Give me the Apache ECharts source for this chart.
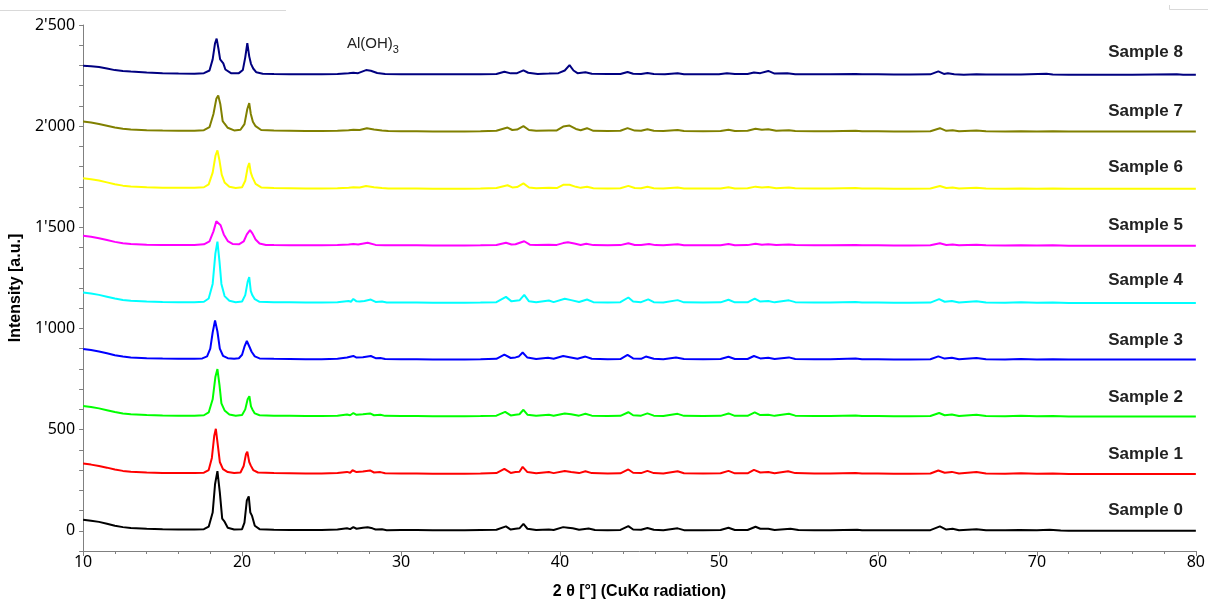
<!DOCTYPE html>
<html>
<head>
<meta charset="utf-8">
<script src="https://cdn.jsdelivr.net/npm/echarts@6/dist/echarts.min.js"></script>
<style>
html,body{margin:0;padding:0;background:#fff;}
#chart{width:1208px;height:605px;}
</style>
</head>
<body>
<div id="chart"></div>
<script>
// ---- Data (2θ [°], intensity as plotted incl. vertical stacking) ----
const sampleNames = ['Sample 0','Sample 1','Sample 2','Sample 3','Sample 4','Sample 5','Sample 6','Sample 7','Sample 8'];
const sampleColors = ['#000000','#ff0000','#00ff00','#0000ff','#00ffff','#ff00ff','#ffff00','#808000','#000080'];
const labelLevels = [101, 377, 662, 942, 1237, 1512, 1797, 2072, 2367];
const yTickLabels = ["0","500","1'000","1'500","2'000","2'500"];

const sample0 = [[10,55],[10.5,50],[11,44],[11.5,35],[12,25],[12.5,18],[13,14],[14,10],[15,7],[16,6],[17,6],[17.6,8],[17.9,20],[18.15,90],[18.3,230],[18.45,295],[18.6,190],[18.75,60],[18.9,45],[19.1,15],[19.5,6],[20.0,8],[20.15,40],[20.3,150],[20.42,170],[20.52,90],[20.62,75],[20.8,25],[21.1,8],[22,5],[23,4],[24,4],[25,4],[26,6],[26.6,12],[26.8,8],[27.0,18],[27.2,10],[27.6,15],[27.9,17],[28.2,12],[28.4,6],[28.8,7],[29.1,3],[30,4],[31,4],[32,3],[33,3],[34,3],[35,4],[36,5],[36.6,22],[36.9,6],[37.2,10],[37.45,12],[37.7,34],[37.95,10],[38.5,4],[39.3,6],[39.6,4],[40.2,18],[40.5,15],[40.8,12],[41.2,5],[41.8,11],[42.2,4],[43,3],[43.8,4],[44.3,23],[44.6,6],[45.1,5],[45.5,14],[45.9,5],[46.5,3],[47.4,12],[47.8,3],[49,3],[50.1,4],[50.6,15],[51,4],[51.8,4],[52.3,20],[52.6,10],[53.1,10],[53.5,4],[54.5,10],[55,4],[56,3],[57,3],[58.7,5],[59,2],[60,2],[61,2],[62,2],[63.3,3],[63.9,22],[64.3,6],[64.7,10],[65.1,3],[66.2,8],[66.8,3],[68,2],[68.9,4],[70,2],[70.8,5],[71.5,1],[72,0],[74,0],[76,0],[78,0],[80,0]];

const sample1 = [[10,332],[10.5,327],[11,320],[11.5,312],[12,303],[12.5,296],[13,292],[14,288],[15,286],[16,285],[17,285],[17.6,287],[17.9,300],[18.1,360],[18.25,470],[18.35,504],[18.48,420],[18.6,340],[18.8,305],[19.1,290],[19.5,285],[19.9,288],[20.1,320],[20.25,380],[20.33,391],[20.45,340],[20.55,322],[20.7,300],[21,288],[22,285],[23,284],[24,283],[25,283],[26,285],[26.6,291],[26.8,287],[26.95,299],[27.2,290],[27.6,293],[28.05,298],[28.3,288],[28.7,290],[29,284],[30,283],[31,283],[32,282],[33,282],[34,282],[35,283],[36,285],[36.5,306],[36.9,286],[37.2,290],[37.45,292],[37.65,316],[37.95,290],[38.5,284],[39.3,290],[39.6,285],[40.3,295],[40.7,290],[41.2,285],[41.6,294],[42,285],[43,283],[43.8,284],[44.3,303],[44.6,287],[45.1,285],[45.5,296],[45.9,285],[46.5,283],[47.4,294],[47.8,284],[49,283],[50.1,284],[50.6,296],[51,284],[51.8,284],[52.2,301],[52.6,288],[53.1,290],[53.5,284],[54.35,294],[54.8,285],[56,283],[57,283],[58.6,286],[59,283],[60,283],[61,282],[62,282],[63.3,283],[63.8,298],[64.2,287],[64.65,291],[65.1,283],[66.2,291],[66.8,283],[68,282],[69,284],[70,282],[71,283],[72,281],[74,281],[76,281],[78,281],[80,281]];

const sample2 = [[10,617],[10.5,612],[11,605],[11.5,596],[12,587],[12.5,580],[13,576],[14,572],[15,570],[16,569],[17,569],[17.6,571],[17.9,585],[18.15,650],[18.32,760],[18.45,799],[18.58,720],[18.7,630],[18.9,595],[19.2,575],[19.6,569],[20,572],[20.2,600],[20.35,650],[20.46,665],[20.56,615],[20.65,600],[20.8,580],[21.1,571],[22,569],[23,568],[24,567],[25,567],[26,569],[26.6,575],[26.8,571],[27.0,582],[27.2,573],[27.6,576],[28.05,580],[28.3,571],[28.7,573],[29,568],[30,567],[31,567],[32,566],[33,566],[34,566],[35,567],[36,569],[36.55,588],[36.9,570],[37.2,574],[37.45,576],[37.7,598],[37.95,574],[38.5,568],[39.3,573],[39.6,569],[40.3,580],[40.7,576],[41.2,569],[41.6,578],[42,569],[43,567],[43.8,568],[44.3,586],[44.6,571],[45.1,569],[45.5,580],[45.9,569],[46.5,567],[47.4,578],[47.8,568],[49,567],[50.1,568],[50.6,580],[51,568],[51.8,568],[52.25,585],[52.6,572],[53.1,574],[53.5,568],[54.4,578],[54.8,569],[56,567],[57,567],[58.6,570],[59,567],[60,567],[61,566],[62,566],[63.3,567],[63.85,582],[64.2,571],[64.65,575],[65.1,567],[66.2,574],[66.8,567],[68,566],[69,568],[70,566],[71,567],[72,565],[74,565],[76,565],[78,565],[80,565]];

const sample3 = [[10,898],[10.5,893],[11,886],[11.5,877],[12,868],[12.5,861],[13,857],[14,853],[15,851],[16,850],[17,850],[17.5,852],[17.8,862],[18.0,900],[18.15,980],[18.3,1040],[18.45,985],[18.6,900],[18.8,865],[19.1,853],[19.5,850],[19.8,853],[20.0,870],[20.15,910],[20.3,938],[20.45,912],[20.6,885],[20.8,862],[21.1,852],[22,850],[23,849],[24,848],[25,848],[26,850],[26.6,856],[27.0,864],[27.2,856],[27.6,858],[28.1,864],[28.4,853],[28.7,854],[29,849],[30,848],[31,848],[32,847],[33,847],[34,847],[35,848],[36,850],[36.5,871],[36.9,854],[37.2,857],[37.4,861],[37.65,881],[37.95,856],[38.5,849],[39.25,855],[39.6,850],[40.2,864],[40.6,858],[41.1,850],[41.6,861],[42,850],[43,848],[43.8,849],[44.25,869],[44.6,852],[45.1,850],[45.4,861],[45.9,850],[46.5,848],[47.3,856],[47.8,849],[49,848],[50.1,849],[50.6,860],[51,849],[51.8,849],[52.2,864],[52.6,852],[53.1,855],[53.5,849],[54.4,857],[54.8,849],[56,848],[57,848],[58.6,851],[59,848],[60,848],[61,847],[62,847],[63.3,848],[63.8,862],[64.2,851],[64.65,855],[65.1,848],[66.2,854],[66.8,848],[68,847],[69,849],[70,847],[71,848],[72,846],[74,846],[76,846],[78,846],[80,846]];

const sample4 = [[10,1178],[10.5,1173],[11,1166],[11.5,1157],[12,1148],[12.5,1141],[13,1137],[14,1133],[15,1131],[16,1130],[17,1130],[17.6,1132],[17.9,1148],[18.15,1220],[18.32,1370],[18.45,1429],[18.58,1330],[18.7,1220],[18.9,1160],[19.2,1137],[19.6,1130],[20,1133],[20.2,1165],[20.35,1230],[20.45,1254],[20.55,1185],[20.65,1164],[20.8,1145],[21.1,1132],[22,1130],[23,1129],[24,1128],[25,1128],[26,1130],[26.7,1136],[26.85,1132],[27.0,1146],[27.2,1134],[27.4,1133],[27.7,1136],[28.1,1143],[28.4,1131],[28.8,1133],[29.1,1128],[30,1128],[31,1128],[32,1127],[33,1127],[34,1127],[35,1128],[36,1130],[36.6,1156],[36.95,1134],[37.2,1137],[37.45,1139],[37.75,1166],[38.05,1134],[38.5,1129],[39.3,1138],[39.6,1130],[40.3,1147],[40.7,1140],[41.2,1131],[41.7,1143],[42.1,1130],[43,1128],[43.8,1130],[44.3,1153],[44.6,1133],[45.1,1130],[45.55,1144],[45.9,1130],[46.5,1128],[47.4,1140],[47.8,1129],[49,1128],[50.1,1129],[50.6,1142],[51,1129],[51.8,1129],[52.25,1148],[52.6,1133],[53.1,1136],[53.5,1129],[54.4,1139],[54.8,1130],[56,1128],[57,1128],[58.6,1131],[59,1128],[60,1128],[61,1127],[62,1127],[63.3,1128],[63.85,1145],[64.2,1132],[64.65,1136],[65.1,1128],[66.2,1135],[66.8,1128],[68,1127],[69,1129],[70,1127],[71,1128],[72,1126],[74,1126],[76,1126],[78,1126],[80,1126]];

const sample5 = [[10,1458],[10.5,1453],[11,1446],[11.5,1437],[12,1428],[12.5,1421],[13,1417],[14,1414],[15,1413],[16,1412],[17,1413],[17.6,1416],[17.95,1430],[18.2,1480],[18.38,1530],[18.5,1539],[18.65,1510],[18.85,1465],[19.1,1432],[19.4,1418],[19.8,1416],[20.1,1430],[20.3,1465],[20.5,1486],[20.65,1470],[20.85,1440],[21.1,1420],[21.5,1413],[22,1412],[23,1411],[24,1411],[25,1411],[26,1412],[26.7,1415],[27.0,1417],[27.3,1415],[27.9,1424],[28.4,1413],[29,1411],[30,1411],[31,1411],[32,1410],[33,1410],[34,1410],[35,1411],[36,1413],[36.6,1424],[36.95,1415],[37.2,1416],[37.75,1431],[38.1,1414],[38.5,1412],[39.3,1414],[39.8,1413],[40.2,1422],[40.5,1426],[40.9,1420],[41.3,1413],[41.65,1419],[42.1,1412],[43,1411],[43.8,1412],[44.3,1421],[44.7,1413],[45.1,1412],[45.6,1418],[46,1412],[46.5,1411],[47.4,1416],[47.8,1411],[49,1411],[50.1,1411],[50.6,1417],[51,1411],[51.8,1412],[52.3,1419],[52.7,1414],[53.1,1416],[53.6,1412],[54.4,1415],[54.8,1412],[56,1411],[57,1411],[58.6,1413],[59,1411],[60,1411],[61,1410],[62,1410],[63.3,1411],[63.9,1421],[64.3,1413],[64.7,1415],[65.1,1411],[66.2,1414],[66.8,1411],[68,1410],[69,1411],[70,1410],[71,1411],[72,1409],[74,1409],[76,1409],[78,1409],[80,1409]];

const sample6 = [[10,1743],[10.5,1738],[11,1731],[11.5,1722],[12,1713],[12.5,1706],[13,1702],[14,1698],[15,1696],[16,1695],[17,1695],[17.6,1698],[17.9,1712],[18.15,1770],[18.33,1855],[18.45,1880],[18.58,1830],[18.72,1760],[18.9,1722],[19.2,1700],[19.6,1694],[20,1698],[20.2,1730],[20.35,1795],[20.45,1818],[20.55,1770],[20.65,1748],[20.85,1715],[21.2,1697],[22,1694],[23,1693],[24,1692],[25,1692],[26,1693],[26.7,1696],[27.0,1698],[27.4,1697],[27.8,1704],[28.3,1698],[28.8,1694],[29.2,1692],[30,1692],[31,1692],[32,1691],[33,1691],[34,1691],[35,1692],[36,1694],[36.7,1708],[37.0,1697],[37.3,1699],[37.7,1717],[38.05,1697],[38.5,1693],[39.3,1695],[39.8,1694],[40.2,1710],[40.6,1710],[41.0,1700],[41.3,1695],[41.7,1700],[42.1,1693],[43,1692],[43.8,1693],[44.3,1705],[44.7,1694],[45.1,1693],[45.5,1700],[45.9,1693],[46.5,1692],[47.4,1697],[47.8,1692],[49,1692],[50.1,1692],[50.6,1698],[51,1692],[51.8,1693],[52.3,1701],[52.7,1697],[53.1,1699],[53.6,1693],[54.4,1697],[54.8,1693],[56,1692],[57,1692],[58.6,1694],[59,1692],[60,1692],[61,1691],[62,1691],[63.3,1692],[63.9,1704],[64.3,1694],[64.7,1697],[65.1,1692],[66.2,1695],[66.8,1692],[68,1691],[69,1692],[70,1691],[71,1692],[72,1690],[74,1690],[76,1690],[78,1690],[80,1690]];

const sample7 = [[10,2023],[10.5,2018],[11,2011],[11.5,2002],[12,1993],[12.5,1987],[13,1983],[14,1980],[15,1978],[16,1977],[17,1977],[17.6,1980],[17.95,1995],[18.2,2060],[18.38,2135],[18.5,2152],[18.63,2110],[18.78,2025],[18.9,2012],[19.1,1992],[19.5,1979],[19.9,1982],[20.15,2010],[20.33,2085],[20.45,2114],[20.55,2060],[20.68,2022],[20.85,2000],[21.2,1981],[22,1978],[23,1977],[24,1976],[25,1976],[26,1977],[26.7,1980],[27.0,1982],[27.4,1981],[27.85,1990],[28.3,1984],[28.8,1978],[29.2,1976],[30,1975],[31,1975],[32,1974],[33,1974],[34,1974],[35,1975],[36,1977],[36.7,1993],[37.0,1981],[37.3,1983],[37.7,2000],[38.05,1981],[38.5,1977],[39.3,1979],[39.8,1979],[40.2,1998],[40.6,2003],[41.0,1986],[41.3,1980],[41.7,1990],[42.1,1977],[43,1976],[43.8,1977],[44.25,1990],[44.7,1978],[45.1,1977],[45.5,1985],[45.9,1977],[46.5,1976],[47.4,1981],[47.8,1976],[49,1975],[50.1,1976],[50.6,1982],[51,1976],[51.8,1977],[52.3,1987],[52.7,1982],[53.1,1985],[53.6,1977],[54.4,1980],[54.8,1976],[56,1975],[57,1975],[58.6,1977],[59,1975],[60,1975],[61,1974],[62,1974],[63.3,1975],[63.9,1990],[64.3,1977],[64.7,1980],[65.1,1975],[66.2,1978],[66.8,1975],[68,1974],[69,1975],[70,1974],[71,1975],[72,1973],[74,1973],[76,1973],[78,1973],[80,1973]];

const sample8 = [[10,2298],[10.5,2296],[11,2292],[11.5,2285],[12,2277],[12.5,2273],[13,2270],[14,2265],[15,2262],[16,2260],[17,2259],[17.6,2262],[17.95,2275],[18.15,2330],[18.3,2410],[18.4,2433],[18.52,2380],[18.62,2330],[18.72,2326],[18.82,2310],[18.95,2280],[19.3,2262],[19.8,2262],[20.05,2278],[20.2,2340],[20.33,2410],[20.45,2345],[20.56,2308],[20.7,2285],[20.9,2266],[21.3,2259],[22,2258],[23,2257],[24,2257],[25,2257],[26,2258],[26.7,2261],[27.0,2264],[27.3,2262],[27.8,2277],[28.1,2274],[28.5,2263],[29,2258],[30,2257],[31,2257],[32,2256],[33,2256],[34,2257],[35,2257],[36,2258],[36.5,2269],[36.9,2261],[37.3,2262],[37.7,2276],[38.0,2264],[38.6,2258],[39.3,2260],[39.9,2262],[40.3,2275],[40.6,2302],[40.85,2275],[41.1,2262],[41.6,2266],[42,2259],[43,2258],[43.8,2258],[44.25,2268],[44.6,2259],[45.1,2258],[45.5,2263],[45.9,2258],[46.6,2256],[47.4,2262],[47.8,2257],[49,2256],[50,2257],[50.5,2262],[51,2258],[51.8,2258],[52.2,2265],[52.6,2262],[53.1,2273],[53.5,2260],[54.3,2261],[54.8,2257],[56,2256],[57,2256],[58.6,2258],[59,2256],[60,2256],[61,2255],[62,2255],[63.3,2256],[63.8,2271],[64.15,2258],[64.4,2262],[64.8,2257],[65.4,2254],[66.2,2257],[66.8,2255],[68,2255],[69,2255],[70.6,2259],[71,2255],[72,2254],[74,2254],[76,2254],[78.8,2257],[79.2,2254],[80,2254]];

const sampleData = [sample0, sample1, sample2, sample3, sample4, sample5, sample6, sample7, sample8];

// ---- Chart ----
const chart = echarts.init(document.getElementById('chart'), null, {renderer: 'canvas'});
const axisGray = '#808080';
const tickFont = '"Noto Sans", "DejaVu Sans", sans-serif';
const boldFont = '"Liberation Sans", Arial, sans-serif';

function fmtY(v) {
  if (v < 0 || v % 500 !== 0) return '';
  return yTickLabels[v / 500];
}

const series = sampleData.map((d, i) => ({
  name: sampleNames[i],
  type: 'line',
  data: d,
  showSymbol: false,
  symbol: 'none',
  smooth: false,
  silent: true,
  lineStyle: {color: sampleColors[i], width: 2},
  z: 2
}));

chart.setOption({
  animation: false,
  backgroundColor: '#ffffff',
  grid: {left: 81, right: 11, top: 25, bottom: 51, containLabel: false},
  xAxis: {
    type: 'value', min: 10, max: 80, interval: 10,
    name: '2 θ [°] (CuKα radiation)',
    nameLocation: 'middle', nameGap: 33,
    nameTextStyle: {fontFamily: boldFont, fontWeight: 'bold', fontSize: 16, color: '#000'},
    axisLine: {show: true, onZero: false, lineStyle: {color: axisGray, width: 1}},
    axisTick: {show: true, inside: false, length: 5, lineStyle: {color: axisGray}},
    minorTick: {show: true, splitNumber: 5, length: 3, lineStyle: {color: axisGray}},
    axisLabel: {fontFamily: tickFont, fontSize: 16, color: '#000', margin: 3},
    splitLine: {show: false}, minorSplitLine: {show: false}
  },
  yAxis: {
    type: 'value', min: -100, max: 2500, interval: 100,
    name: 'Intensity [a.u.]',
    nameLocation: 'middle', nameGap: 55, nameRotate: 90,
    nameTextStyle: {fontFamily: boldFont, fontWeight: 'bold', fontSize: 16, color: '#000'},
    axisLine: {show: true, onZero: false, lineStyle: {color: axisGray, width: 1}},
    axisTick: {show: true, inside: false, length: 4, lineStyle: {color: axisGray}},
    axisLabel: {fontFamily: tickFont, fontSize: 16, color: '#000', margin: 8, formatter: fmtY, showMinLabel: true, showMaxLabel: true},
    splitLine: {show: false}
  },
  series: series
});

// Sample labels & annotation positioned through the chart's own scales
const gfx = [];
sampleNames.forEach((n, i) => {
  const p = chart.convertToPixel({gridIndex: 0}, [80, labelLevels[i]]);
  gfx.push({
    type: 'text', x: p[0] - 13, y: p[1], silent: true,
    style: {text: n, align: 'right', verticalAlign: 'middle', font: 'bold 17px "Liberation Sans", Arial, sans-serif', fill: '#222'}
  });
});
const ap = chart.convertToPixel({gridIndex: 0}, [26.6, 2415]);
gfx.push({
  type: 'text', x: ap[0], y: ap[1], silent: true,
  style: {
    text: '{a|Al(OH)}{s|3}',
    align: 'left', verticalAlign: 'middle',
    rich: {
      a: {font: '15px "Liberation Sans", Arial, sans-serif', fill: '#222', verticalAlign: 'bottom', lineHeight: 18},
      s: {font: '11px "Liberation Sans", Arial, sans-serif', fill: '#222', verticalAlign: 'bottom', lineHeight: 12, padding: [0,0,-4,0]}
    }
  }
});
// faint frame lines at the top of the picture
gfx.push({type: 'line', silent: true, shape: {x1: 0, y1: 10.5, x2: 286, y2: 10.5}, style: {stroke: '#d9d9d9', lineWidth: 1}});
gfx.push({type: 'polyline', silent: true, shape: {points: [[1169.5, 5], [1169.5, 9.5], [1208, 9.5]]}, style: {stroke: '#d9d9d9', lineWidth: 1, fill: null}});
chart.setOption({graphic: gfx});
</script>
</body>
</html>
